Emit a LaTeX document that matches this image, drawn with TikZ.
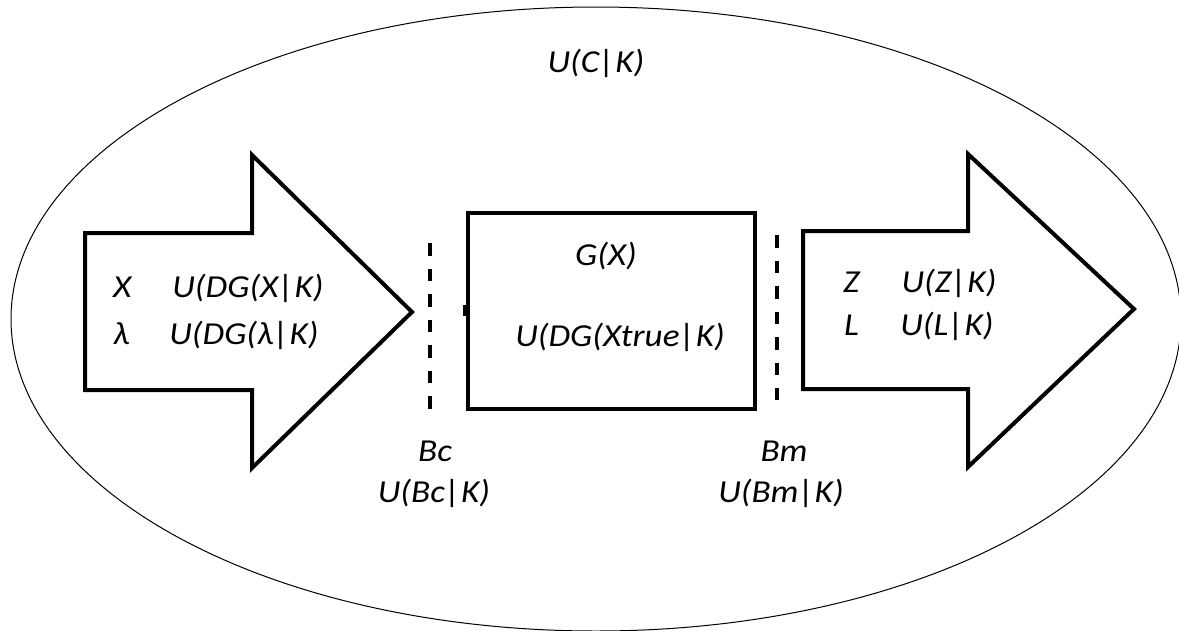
\documentclass[tikz,border=0pt]{standalone}
\usepackage{fontspec}
\setmainfont{Carlito}[FakeStretch=1.1]
\begin{document}
\begin{tikzpicture}[x=1pt,y=-1pt]
\tikzset{
  lbl/.style={font=\fontsize{32}{38}\selectfont\itshape, inner sep=0pt, anchor=base},
  lblw/.style={lbl, anchor=base west},
  outline/.style={line width=4pt, line join=miter},
  barrier/.style={line width=4.5pt, dash pattern=on 12.5pt off 13pt}
}
\useasboundingbox (0,0) rectangle (1179,630);
% enclosing ellipse
\draw[line width=1pt] (596,319) ellipse [x radius=585, y radius=312];
% input arrow
\draw[outline] (85,233) -- (252,233) -- (252,155) -- (412,312) -- (252,468) -- (252,390) -- (85,390) -- cycle;
% output arrow
\draw[outline] (803,231) -- (968,231) -- (968,154) -- (1134,309) -- (968,467) -- (968,389) -- (803,389) -- cycle;
% central box
\draw[outline] (468,213) rectangle (755,409);
\fill (463,305) rectangle (468,316);
% boundaries
\draw[barrier] (430,243) -- (430,410);
\draw[barrier] (777,235) -- (777,400);
% texts
\node[lbl] (uck) at (596,72) {U(C|K)};
\node[lblw] (x) at (113,297) {X};
\node[lbl] (udgx) at (248,297) {U(DG(X|K)};
\node[lblw] (lam) at (113,344) {λ};
\node[lbl] (udglam) at (244,344) {U(DG(λ|K)};
\node[lbl] (gx) at (606,265) {G(X)};
\node[lbl] (udgxt) at (620,346) {U(DG(Xtrue|K)};
\node[lblw] (z) at (843,292) {Z};
\node[lbl] (uzk) at (949,292) {U(Z|K)};
\node[lblw] (l) at (844,335) {L};
\node[lbl] (ulk) at (947,335) {U(L|K)};
\node[lbl] (bc) at (435,461) {Bc};
\node[lbl] (ubck) at (434,502) {U(Bc|K)};
\node[lbl] (bm) at (784,461) {Bm};
\node[lbl] (ubmk) at (781,502) {U(Bm|K)};
\end{tikzpicture}
\end{document}
